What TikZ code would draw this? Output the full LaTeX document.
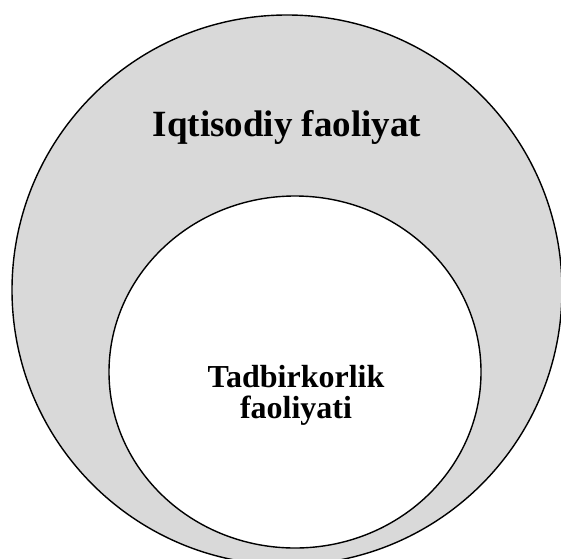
\documentclass[tikz,border=0pt]{standalone}
\usepackage{fontspec}
\setmainfont{Liberation Serif}
\definecolor{fillgray}{RGB}{217,217,217}
\begin{document}
\begin{tikzpicture}[x=1pt,y=1pt,
  ring/.style={draw=black,line width=1.4pt},
  bigtext/.style={font=\fontsize{37}{40}\selectfont\bfseries,inner sep=0pt,anchor=base},
  smalltext/.style={font=\fontsize{32}{32}\selectfont\bfseries,inner sep=0pt,anchor=base}]
\useasboundingbox (0,0) rectangle (561,558);
\clip (0,0) rectangle (561,558);
\draw[ring,fill=fillgray] (287,268) ellipse [x radius=275,y radius=275];
\draw[ring,fill=white] (295,186) ellipse [x radius=186,y radius=176];
\node[bigtext] (outer) at (287,421) {Iqtisodiy faoliyat};
\node[smalltext] (inner1) at (296,171) {Tadbirkorlik};
\node[smalltext] (inner2) at (296,140) {faoliyati};
\end{tikzpicture}
\end{document}
